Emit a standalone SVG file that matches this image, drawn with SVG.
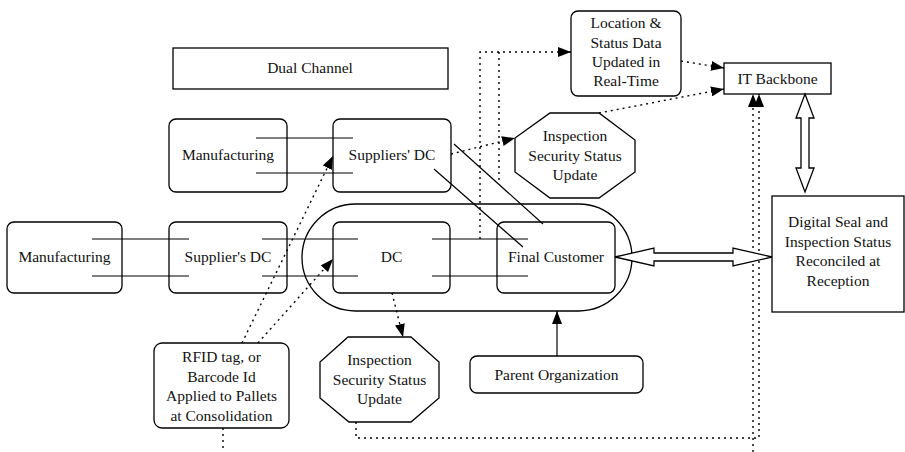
<svg xmlns="http://www.w3.org/2000/svg" width="905" height="452" viewBox="0 0 905 452">
<style>
.box{fill:#fff;stroke:#000;stroke-width:1.3}
.t{font-family:"Liberation Serif","Times New Roman",serif;font-size:15.5px;fill:#111;text-anchor:middle}
.ln{fill:none;stroke:#000;stroke-width:1.2}
.dot{fill:none;stroke:#000;stroke-width:1.4;stroke-dasharray:2 4}
.hol{fill:#fff;stroke:#000;stroke-width:1.3;stroke-linejoin:miter}
</style>
<defs>
<marker id="ah" markerUnits="userSpaceOnUse" markerWidth="14" markerHeight="10" refX="13" refY="5" orient="auto">
<path d="M0,0 L13,5 L0,10 Z" fill="#000"/>
</marker>
</defs>
<rect width="905" height="452" fill="#fff"/>

<g id="capsule">
<rect class="box" x="302" y="204" width="330" height="107" rx="53.5" ry="53.5"/>
</g>

<g id="dual-channel">
<rect class="box" x="173" y="48" width="275" height="41"/>
<text class="t" x="310" y="73">Dual Channel</text>
</g>

<g id="manufacturing-top">
<rect class="box" x="169" y="119" width="118" height="73" rx="7"/>
<text class="t" x="228" y="160">Manufacturing</text>
</g>
<g id="suppliers-dc-top">
<rect class="box" x="333" y="119" width="118" height="73" rx="7"/>
<text class="t" x="392" y="160">Suppliers' DC</text>
</g>

<g id="manufacturing">
<rect class="box" x="7" y="222" width="115" height="71" rx="7"/>
<text class="t" x="64.5" y="262">Manufacturing</text>
</g>
<g id="suppliers-dc">
<rect class="box" x="169" y="222" width="118" height="71" rx="7"/>
<text class="t" x="228" y="262">Supplier's DC</text>
</g>
<g id="dc">
<rect class="box" x="333" y="222" width="117" height="71" rx="7"/>
<text class="t" x="391.5" y="262">DC</text>
</g>
<g id="final-customer">
<rect class="box" x="497" y="222" width="118" height="71" rx="7"/>
<text class="t" x="556" y="262">Final Customer</text>
</g>

<g id="location-status">
<rect class="box" x="571" y="11" width="110" height="85" rx="7"/>
<text class="t" x="626" y="28">Location &amp;</text>
<text class="t" x="626" y="47.5">Status Data</text>
<text class="t" x="626" y="67">Updated in</text>
<text class="t" x="626" y="86">Real-Time</text>
</g>

<g id="it-backbone">
<rect class="box" x="724" y="63" width="107" height="31"/>
<text class="t" x="777.5" y="84">IT Backbone</text>
</g>

<g id="inspection-top">
<polygon class="box" points="550,113 599,113 635,140 635,172 599,198 550,198 515,172 515,138"/>
<text class="t" x="575" y="141">Inspection</text>
<text class="t" x="575" y="160.5">Security Status</text>
<text class="t" x="575" y="180">Update</text>
</g>

<g id="digital-seal">
<rect class="box" x="772" y="196" width="132" height="116"/>
<text class="t" x="838" y="227">Digital Seal and</text>
<text class="t" x="838" y="246.5">Inspection Status</text>
<text class="t" x="838" y="266">Reconciled at</text>
<text class="t" x="838" y="285.5">Reception</text>
</g>

<g id="rfid">
<rect class="box" x="154" y="343" width="135" height="85" rx="8"/>
<text class="t" x="221.5" y="362">RFID tag, or</text>
<text class="t" x="221.5" y="381.5">Barcode Id</text>
<text class="t" x="221.5" y="401">Applied to Pallets</text>
<text class="t" x="221.5" y="420.5">at Consolidation</text>
</g>

<g id="inspection-bottom">
<polygon class="box" points="348,337 411,337 439,362 439,398 411,422 349,422 320,398 320,362"/>
<text class="t" x="379.5" y="365">Inspection</text>
<text class="t" x="379.5" y="384.5">Security Status</text>
<text class="t" x="379.5" y="404">Update</text>
</g>

<g id="parent-organization">
<rect class="box" x="470" y="356" width="173" height="37" rx="7"/>
<text class="t" x="556.5" y="380">Parent Organization</text>
</g>

<g id="connectors">
<!-- flow lines -->
<line class="ln" x1="256" y1="138" x2="353" y2="138"/>
<line class="ln" x1="256" y1="173" x2="353" y2="173"/>
<line class="ln" x1="92" y1="239" x2="189" y2="239"/>
<line class="ln" x1="92" y1="276" x2="189" y2="276"/>
<line class="ln" x1="262" y1="239" x2="358" y2="239"/>
<line class="ln" x1="262" y1="276" x2="358" y2="276"/>
<line class="ln" x1="432" y1="239" x2="528" y2="239"/>
<line class="ln" x1="432" y1="276" x2="528" y2="276"/>
<line class="ln" x1="434" y1="169" x2="523" y2="247"/>
<line class="ln" x1="454" y1="144" x2="543" y2="224"/>

<!-- parent org arrow -->
<line class="ln" x1="557" y1="356" x2="557" y2="311" marker-end="url(#ah)"/>

<!-- dotted arrows -->
<line class="dot" x1="242" y1="343" x2="333" y2="156" marker-end="url(#ah)"/>
<line class="dot" x1="258" y1="343" x2="333" y2="259" marker-end="url(#ah)"/>
<line class="dot" x1="392" y1="293" x2="403" y2="337" marker-end="url(#ah)"/>
<line class="dot" x1="451" y1="154" x2="515" y2="138" marker-end="url(#ah)"/>
<line class="dot" x1="599" y1="113" x2="724" y2="89" marker-end="url(#ah)"/>
<line class="dot" x1="681" y1="61" x2="724" y2="68" marker-end="url(#ah)"/>
<polyline class="dot" points="480,239 480,52 571,52" marker-end="url(#ah)"/>
<line class="dot" x1="499" y1="180" x2="499" y2="52"/>
<polyline class="dot" points="356,422 356,438 759,438 759,94" marker-end="url(#ah)"/>
<line class="dot" x1="753" y1="452" x2="753" y2="94" marker-end="url(#ah)"/>
<line class="dot" x1="223" y1="428" x2="223" y2="452"/>

<!-- hollow double arrows -->
<polygon class="hol" points="615,257 654,248 654,253 733,253 733,248 772,257 733,266 733,261 654,261 654,266"/>
<polygon class="hol" points="805,94 814,118 809,118 809,168 814,168 805,192 796,168 801,168 801,118 796,118"/>
</g>
</svg>
